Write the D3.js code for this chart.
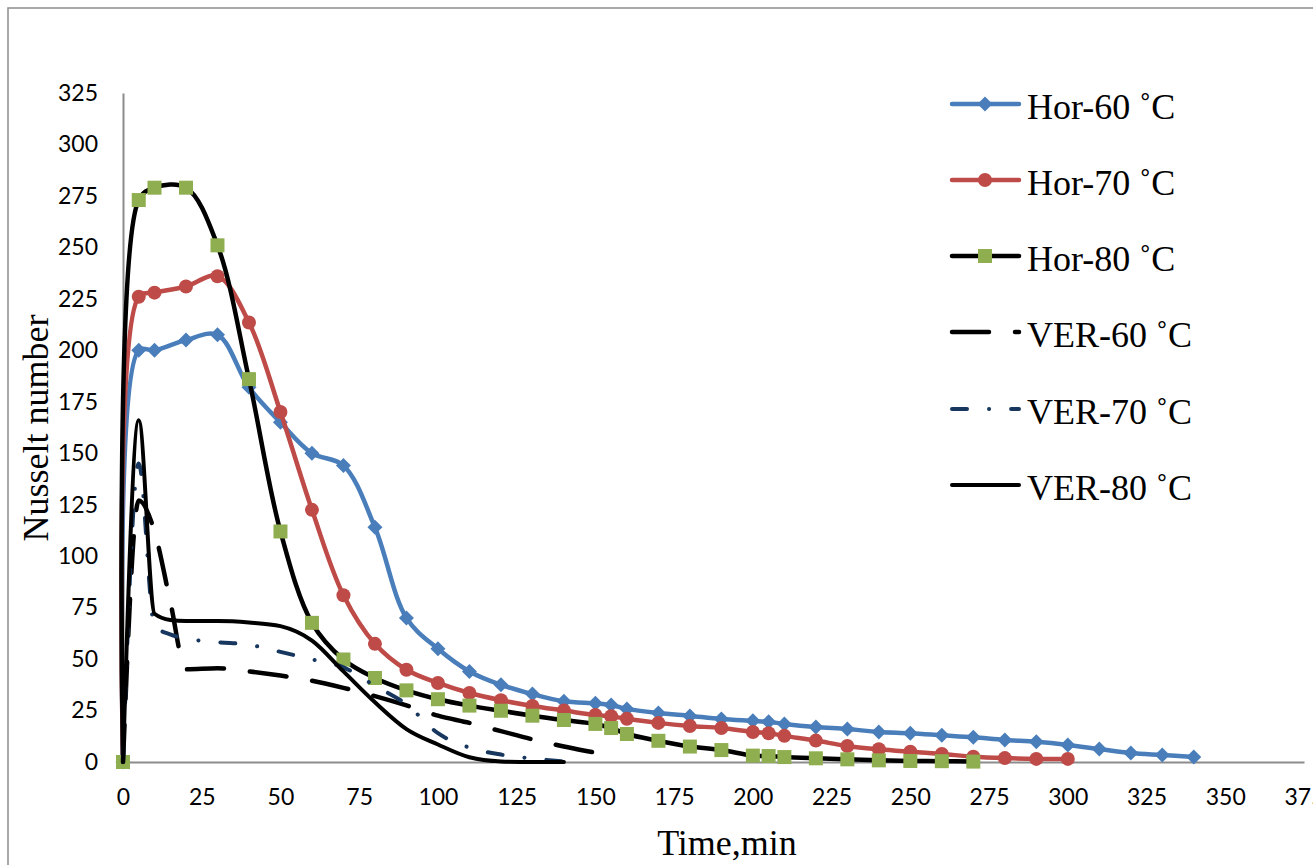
<!DOCTYPE html>
<html>
<head>
<meta charset="utf-8">
<script src="https://cdn.jsdelivr.net/npm/d3@7"></script>
<style>
  html, body { margin: 0; padding: 0; background: #fff; }
  svg { display: block; }
</style>
</head>
<body>
<svg id="chart" width="1313" height="865"></svg>
<script>
// Nusselt number vs. time for horizontal and vertical orientations
const horTimes = [0, 5, 10, 20, 30, 40, 50, 60, 70, 80, 90, 100, 110, 120, 130, 140, 150, 155, 160, 170, 180, 190, 200, 205, 210, 220, 230, 240, 250, 260, 270, 280, 290, 300, 310, 320, 330, 340];
const hor60 = [0, 200, 200, 205, 207.5, 182, 165, 150, 144, 114, 70, 55, 44, 37.5, 33, 29.5, 28.5, 27.7, 25.8, 23.8, 22.4, 20.9, 20, 19.5, 18.5, 17, 16, 14.6, 14, 13, 12, 10.7, 9.8, 8.3, 6.3, 4.4, 3.4, 2.4];
const hor70 = [0, 226, 228, 231, 236, 213.5, 170, 122.5, 81, 57.4, 44.8, 38.4, 33.5, 30, 27.2, 25, 22.8, 22.2, 21, 19, 17.5, 16.5, 14.6, 14, 12.7, 10.4, 7.8, 6.2, 5, 3.9, 2.6, 1.9, 1.5, 1.5];
const hor80 = [0, 273, 279, 279, 251, 186, 112, 67.6, 49.8, 40.8, 34.8, 30.5, 27.4, 24.9, 22.5, 20.4, 18.5, 16.5, 13.6, 10.3, 7.5, 5.8, 3.1, 2.9, 2.4, 1.8, 1.3, 0.8, 0.5, 0.4, 0.2];

const ver60Times = [0, 5, 10, 15, 20, 30, 40, 50, 60, 70, 80, 90, 100, 110, 120, 130, 140, 150, 155];
const ver60 = [0, 127, 112, 78, 45, 45.5, 44, 42, 39.5, 36, 32, 27.5, 22.5, 19, 15, 11, 7.5, 4.5, 3];
const verTimes = [0, 5, 10, 15, 20, 30, 40, 50, 60, 70, 80, 90, 100, 110, 120, 130, 140];
const ver70 = [0, 145, 66, 62, 60, 58.2, 57, 53.5, 49.8, 46, 37, 28, 14, 7, 3.6, 1.7, 0.3];
const ver80 = [0, 166, 72, 69, 68.5, 68.5, 67.8, 66, 59, 44, 29, 16, 8.5, 2.3, 0.3, 0, 0];

const xTicks = d3.range(0, 376, 25);
const yTicks = d3.range(0, 326, 25);
const seriesNames = ["Hor-60 \u02DAC", "Hor-70 \u02DAC", "Hor-80 \u02DAC", "VER-60 \u02DAC", "VER-70 \u02DAC", "VER-80 \u02DAC"];

const svg = d3.select("#chart");

// outer chart frame
svg.append("rect")
  .attr("x", 8).attr("y", 8).attr("width", 1400).attr("height", 900)
  .attr("fill", "none").attr("stroke", "#8c8c8c").attr("stroke-width", 1.5);

const x = d3.scaleLinear().domain([0, 375]).range([123, 1304]);
const y = d3.scaleLinear().domain([0, 325]).range([762, 93]);

const tickFont = "Lato, 'Open Sans', sans-serif";
const serif = "'Liberation Serif', 'Times New Roman', serif";

// axes
const xAxis = svg.append("g").attr("transform", `translate(0,${y(0)})`)
  .call(d3.axisBottom(x).tickValues(xTicks).tickSize(0).tickPadding(27).tickFormat(d3.format("d")));
const yAxis = svg.append("g").attr("transform", `translate(${x(0)},0)`)
  .call(d3.axisLeft(y).tickValues(yTicks).tickSize(0).tickPadding(25).tickFormat(d3.format("d")));
[xAxis, yAxis].forEach(g => {
  g.select(".domain").attr("stroke", "#8c8c8c").attr("stroke-width", 2);
  g.selectAll("text").attr("font-family", tickFont).attr("font-size", 23).attr("fill", "#000");
});

// axis titles
svg.append("text")
  .attr("x", 727).attr("y", 855)
  .attr("text-anchor", "middle")
  .attr("font-family", serif)
  .attr("font-size", 36)
  .text("Time,min");
svg.append("text")
  .attr("transform", "translate(48,428) rotate(-90)")
  .attr("text-anchor", "middle")
  .attr("font-family", serif)
  .attr("font-size", 36)
  .text("Nusselt number");

const smooth = d3.line().x(d => x(d[0])).y(d => y(d[1])).curve(d3.curveCatmullRom.alpha(0.5));
const smoothMono = d3.line().x(d => x(d[0])).y(d => y(d[1])).curve(d3.curveMonotoneX);

const zip = (ts, vs) => vs.map((v, i) => [ts[i], v]);

const diamond = r => `M0,${-r}L${r},0L0,${r}L${-r},0Z`;
const square = r => `M${-r},${-r}H${r}V${r}H${-r}Z`;

const series = [
  { name: seriesNames[0], data: zip(horTimes, hor60), line: smooth, stroke: "#4A7EBB", width: 4.5, marker: "diamond", fill: "#4A7EBB" },
  { name: seriesNames[1], data: zip(horTimes, hor70), line: smooth, stroke: "#BE4B48", width: 4.5, marker: "circle", fill: "#BE4B48" },
  { name: seriesNames[2], data: zip(horTimes, hor80), line: smooth, stroke: "#000", width: 4.5, marker: "square", fill: "#8FAE4F" },
  { name: seriesNames[3], data: zip(ver60Times, ver60), line: smoothMono, stroke: "#000", width: 4.5, dash: "37,26" },
  { name: seriesNames[4], data: zip(verTimes, ver70), line: smoothMono, stroke: "#17375E", width: 4, dash: "15,22,0.1,22" },
  { name: seriesNames[5], data: zip(verTimes, ver80), line: smoothMono, stroke: "#000", width: 4 }
];

const markerPath = (m) => m === "diamond" ? diamond(7.5) : m === "square" ? square(7) : null;

function drawMarker(g, s, px, py) {
  if (!s.marker) return;
  if (s.marker === "circle") {
    g.append("circle").attr("cx", px).attr("cy", py).attr("r", 7).attr("fill", s.fill);
  } else {
    g.append("path").attr("d", markerPath(s.marker)).attr("transform", `translate(${px},${py})`).attr("fill", s.fill);
  }
}

series.forEach(s => {
  const g = svg.append("g");
  g.append("path")
    .attr("d", s.line(s.data))
    .attr("fill", "none")
    .attr("stroke", s.stroke)
    .attr("stroke-width", s.width)
    .attr("stroke-linecap", "round")
    .attr("stroke-linejoin", "round")
    .attr("stroke-dasharray", s.dash || null);
  s.data.forEach(d => drawMarker(g, s, x(d[0]), y(d[1])));
});

// legend
const legend = svg.append("g");
const legendRows = [104, 180, 256, 332, 409, 485];
series.forEach((s, i) => {
  const ly = legendRows[i];
  legend.append("line")
    .attr("x1", 952).attr("x2", 1019).attr("y1", ly).attr("y2", ly)
    .attr("stroke", s.stroke).attr("stroke-width", s.width)
    .attr("stroke-linecap", "round")
    .attr("stroke-dasharray", s.dash || null);
  drawMarker(legend, s, 985, ly);
  legend.append("text")
    .attr("x", 1027).attr("y", ly + 15)
    .attr("font-family", serif)
    .attr("font-size", 36)
    .text(s.name);
});
</script>
</body>
</html>
